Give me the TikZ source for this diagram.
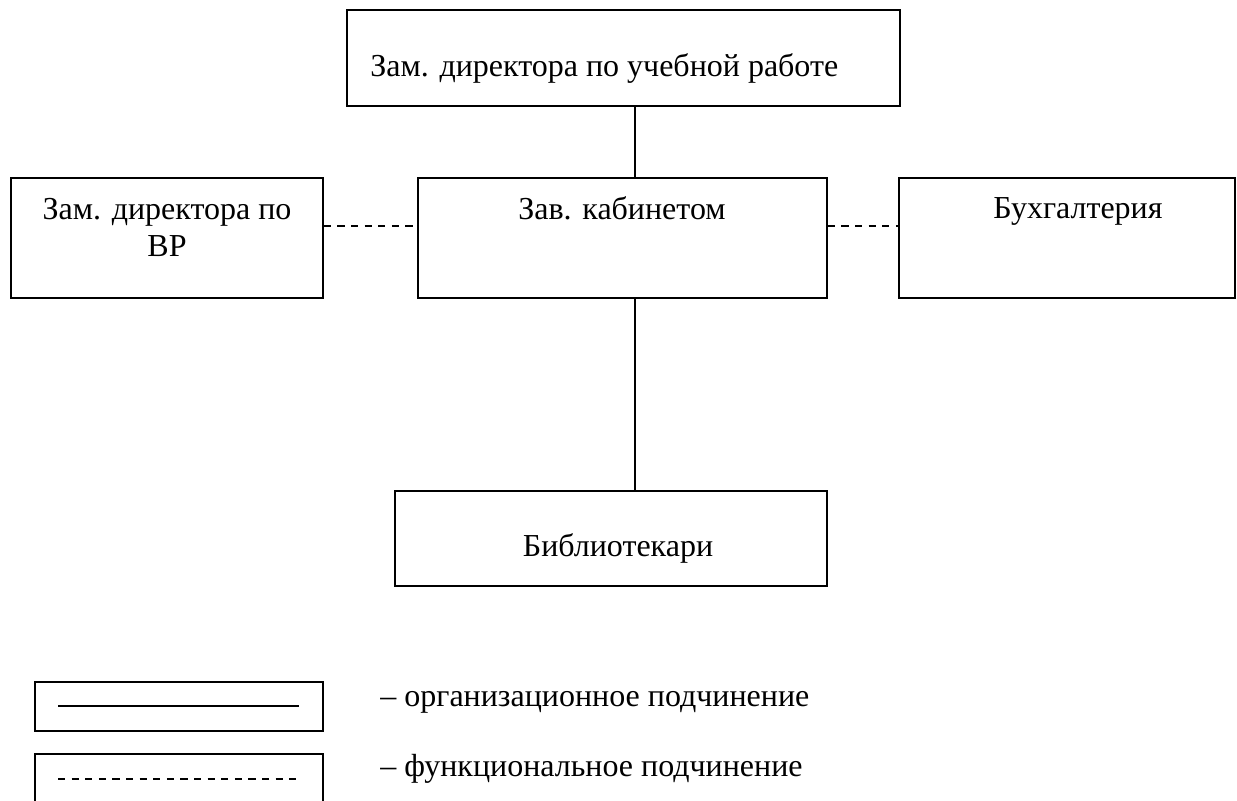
\documentclass[tikz,border=0pt]{standalone}
\usepackage{fontspec}
\setmainfont{Liberation Serif}
\begin{document}
\begin{tikzpicture}[x=0.5pt,y=-0.5pt,
  box/.style={draw=black, line width=0.8pt, inner sep=0pt, fill=none},
  lbl/.style={font=\fontsize{16pt}{18.5pt}\selectfont, inner sep=0pt, text=black},
  conn/.style={draw=black, line width=0.8pt},
  fconn/.style={draw=black, line width=0.8pt, dash pattern=on 3.6pt off 3.2pt}]
\useasboundingbox (0,0) rectangle (1237,800);
\clip (0,0) rectangle (1237,800);
\fill[white] (0,0) rectangle (1237,800);

% boxes
\node[box, minimum width=276.5pt, minimum height=48pt] (top) at (623.5,58) {};
\node[box, minimum width=156pt, minimum height=60pt] (vr) at (167,238) {};
\node[box, minimum width=204.5pt, minimum height=60pt] (mid) at (622.5,238) {};
\node[box, minimum width=168pt, minimum height=60pt] (buh) at (1067,238) {};
\node[box, minimum width=216pt, minimum height=47.5pt] (bib) at (611,538.5) {};

% texts
\node[lbl, anchor=base west] (ttop) at (370,76) {Зам. директора по учебной работе};
\node[lbl, anchor=base] (tvr1) at (167,219) {Зам. директора по};
\node[lbl, anchor=base] (tvr2) at (167,256) {ВР};
\node[lbl, anchor=base] (tmid) at (622,219) {Зав. кабинетом};
\node[lbl, anchor=base] (tbuh) at (1078,218) {Бухгалтерия};
\node[lbl, anchor=base] (tbib) at (618,556) {Библиотекари};

% connectors
\coordinate (vx) at (635,0);
\coordinate (dy) at (0,226);
\draw[conn] (vx |- top.south) -- (vx |- mid.north);
\draw[conn] (vx |- mid.south) -- (vx |- bib.north);
\draw[fconn] (vr.east |- dy) -- (mid.west |- dy);
\draw[fconn] (mid.east |- dy) -- (buh.west |- dy);

% legend
\node[box, minimum width=144pt, minimum height=24.5pt] (leg1) at (179,706.5) {};
\node[box, minimum width=144pt, minimum height=40pt] (leg2) at (179,794) {};
\coordinate (l1a) at (58,706);
\coordinate (l1b) at (299,706);
\coordinate (l2a) at (58,779);
\coordinate (l2b) at (299,779);
\draw[conn] (l1a) -- (l1b);
\draw[fconn] (l2a) -- (l2b);
\node[lbl, anchor=base west] (tleg1) at (380,706) {– организационное подчинение};
\node[lbl, anchor=base west] (tleg2) at (380,776) {– функциональное подчинение};
\end{tikzpicture}
\end{document}
